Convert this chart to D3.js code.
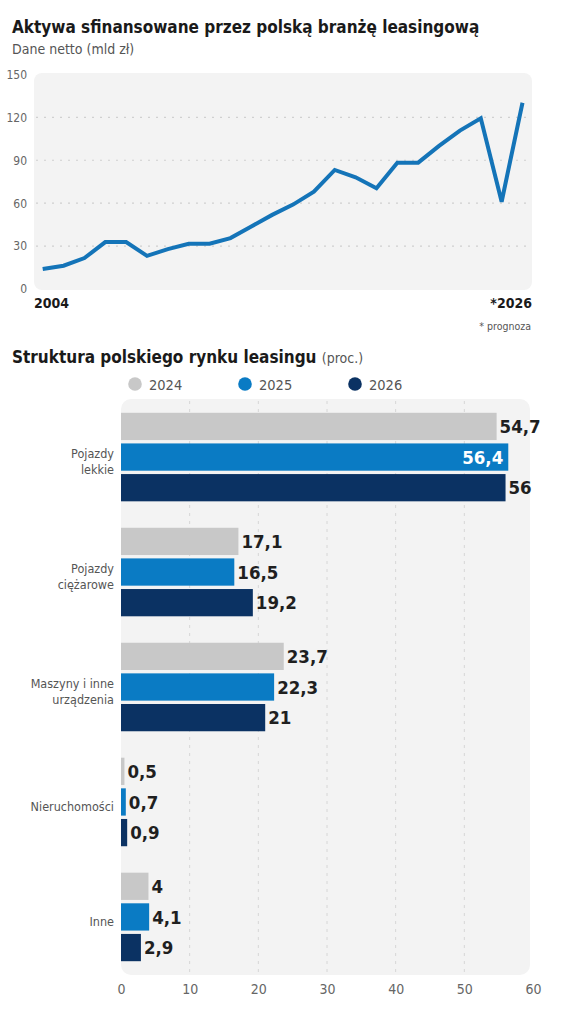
<!DOCTYPE html>
<html>
<head>
<meta charset="utf-8">
<script src="https://cdn.jsdelivr.net/npm/d3@7"></script>
<style>
  body { margin: 0; background: #fff; }
  svg text { font-family: "Liberation Sans Narrow", "DejaVu Sans Condensed", sans-serif; }
  .title { font-weight: bold; fill: #1a1a1a; }
  .sub { fill: #555; }
  .tick-label { fill: #666; }
</style>
</head>
<body>
<div id="chart"></div>
<script>
// ========== DATA ==========
// Aktywa sfinansowane (mld zł), od 2004 do prognozy na 2026
const assets = [14, 16.3, 21.6, 32.8, 32.8, 23.2, 27.9, 31.6, 31.6, 35.6, 43.7, 51.8,
                59, 68, 83.2, 78.1, 70.4, 88.3, 88.3, 100, 110.7, 119.3, 61, 130.2];
const lineXLabels = ["2004", "*2026"];
const lineYTicks = [0, 30, 60, 90, 120, 150];

// Struktura rynku (proc.)
const categories = [["Pojazdy", "lekkie"], ["Pojazdy", "ciężarowe"], ["Maszyny i inne", "urządzenia"], ["Nieruchomości"], ["Inne"]];
const seriesYears = ["2024", "2025", "2026"];
const share2024 = [54.7, 17.1, 23.7, 0.5, 4];
const share2025 = [56.4, 16.5, 22.3, 0.7, 4.1];
const share2026 = [56, 19.2, 21, 0.9, 2.9];
const barXTicks = [0, 10, 20, 30, 40, 50, 60];

const colors = ["#c8c8c8", "#0a7bc4", "#0b3263"];
const width = 564, height = 1027;
const fmt = v => String(v).replace(".", ",");

const svg = d3.select("#chart").append("svg")
    .attr("width", width)
    .attr("height", height);

// ========== LINE CHART ==========
svg.append("text").attr("class", "title")
    .attr("x", 12).attr("y", 33)
    .style("font-size", "17px")
    .text("Aktywa sfinansowane przez polską branżę leasingową");
svg.append("text").attr("class", "sub")
    .attr("x", 12).attr("y", 54)
    .style("font-size", "14px")
    .text("Dane netto (mld zł)");

const xL = d3.scaleLinear().domain([0, assets.length - 1]).range([42.7, 522.5]);
const yL = d3.scaleLinear().domain([0, 150]).range([289, 74.4]);

svg.append("rect")
    .attr("x", 34).attr("y", 73)
    .attr("width", 498).attr("height", 217)
    .attr("rx", 8)
    .attr("fill", "#f3f3f3");

// dotted gridlines
svg.append("g").selectAll("line")
    .data(lineYTicks.filter(t => t > 0 && t < 150))
    .join("line")
    .attr("x1", 36).attr("x2", 530)
    .attr("y1", d => yL(d)).attr("y2", d => yL(d))
    .attr("stroke", "#d0d0d0")
    .attr("stroke-width", 1.2)
    .attr("stroke-dasharray", "2,6");

const leftAxis = d3.axisLeft(yL).tickValues(lineYTicks).tickSize(0).tickPadding(0);
const gy = svg.append("g").attr("transform", "translate(27,0)").call(leftAxis);
gy.select(".domain").remove();
gy.selectAll("text").attr("class", "tick-label").style("font-size", "12px");

const line = d3.line().x((d, i) => xL(i)).y(d => yL(d));
svg.append("path")
    .datum(assets)
    .attr("d", line)
    .attr("fill", "none")
    .attr("stroke", "#1474b8")
    .attr("stroke-width", 4)
    .attr("stroke-linejoin", "miter");

svg.append("text").attr("class", "title")
    .attr("x", 34).attr("y", 308)
    .style("font-size", "14px")
    .text(lineXLabels[0]);
svg.append("text").attr("class", "title")
    .attr("x", 532).attr("y", 308)
    .attr("text-anchor", "end")
    .style("font-size", "14px")
    .text(lineXLabels[1]);
svg.append("text").attr("class", "sub")
    .attr("x", 531).attr("y", 330)
    .attr("text-anchor", "end")
    .style("font-size", "10.5px")
    .text("* prognoza");

// ========== BAR CHART ==========
const t2 = svg.append("text").attr("class", "title")
    .attr("x", 12).attr("y", 363)
    .style("font-size", "17px");
t2.append("tspan").text("Struktura polskiego rynku leasingu ");
t2.append("tspan").attr("class", "sub").style("font-weight", "normal").style("font-size", "14px").text("(proc.)");

// legend
const legend = svg.append("g").attr("transform", "translate(135,384)");
seriesYears.forEach((yr, i) => {
    const g = legend.append("g").attr("transform", `translate(${i * 110}, 0)`);
    g.append("circle").attr("r", 6.8).attr("fill", colors[i]);
    g.append("text").attr("x", 14).attr("y", 5.5)
        .attr("class", "sub").style("font-size", "14.5px").text(yr);
});

const xB = d3.scaleLinear().domain([0, 60]).range([121, 533]);
const yGroup = d3.scaleBand().domain(d3.range(categories.length))
    .range([399, 975]).paddingInner(0.23).paddingOuter(0.12);
const ySeries = d3.scaleBand().domain(seriesYears)
    .range([0, yGroup.bandwidth()]).paddingInner(0.11);

svg.append("rect")
    .attr("x", 121).attr("y", 399)
    .attr("width", 409).attr("height", 576)
    .attr("rx", 10)
    .attr("fill", "#f3f3f3");

svg.append("g").selectAll("line")
    .data(barXTicks.filter(t => t > 0 && t < 60))
    .join("line")
    .attr("x1", d => xB(d)).attr("x2", d => xB(d))
    .attr("y1", 401).attr("y2", 973)
    .attr("stroke", "#d6d6d6")
    .attr("stroke-width", 1)
    .attr("stroke-dasharray", "3,5");

const bottomAxis = d3.axisBottom(xB).tickValues(barXTicks).tickSize(0).tickPadding(0);
const gx = svg.append("g").attr("transform", "translate(0,984)").call(bottomAxis);
gx.select(".domain").remove();
gx.selectAll("text").attr("class", "tick-label").style("font-size", "14px");

const seriesValues = [share2024, share2025, share2026];
const bars = [];
seriesValues.forEach((vals, s) => {
    vals.forEach((v, c) => bars.push({ c, s, v, year: seriesYears[s] }));
});
const maxValue = d3.max(bars, d => d.v);

const groups = svg.append("g");
groups.selectAll("rect")
    .data(bars)
    .join("rect")
    .attr("x", xB(0))
    .attr("y", d => yGroup(d.c) + ySeries(d.year))
    .attr("width", d => xB(d.v) - xB(0))
    .attr("height", ySeries.bandwidth())
    .attr("fill", d => colors[d.s]);

// value labels; the largest bar gets its label inside, in white
groups.selectAll("text.val")
    .data(bars)
    .join("text")
    .attr("class", "val")
    .attr("y", d => yGroup(d.c) + ySeries(d.year) + ySeries.bandwidth() / 2 + 6.8)
    .style("font-size", "18.5px")
    .style("font-weight", "bold")
    .attr("x", d => d.v === maxValue ? xB(d.v) - 5 : xB(d.v) + 3)
    .attr("text-anchor", d => d.v === maxValue ? "end" : "start")
    .attr("fill", d => d.v === maxValue ? "#fff" : "#1f1f1f")
    .text(d => fmt(d.v));

// category labels
categories.forEach((lines, c) => {
    const cy = yGroup(c) + yGroup.bandwidth() / 2;
    const txt = svg.append("text")
        .attr("x", 114)
        .attr("text-anchor", "end")
        .attr("class", "sub")
        .style("font-size", "12.5px");
    if (lines.length === 1) {
        txt.attr("y", cy + 9).text(lines[0]);
    } else {
        lines.forEach((l, i) => {
            txt.append("tspan").attr("x", 114).attr("y", cy + 1 + i * 16).text(l);
        });
    }
});
</script>
</body>
</html>
